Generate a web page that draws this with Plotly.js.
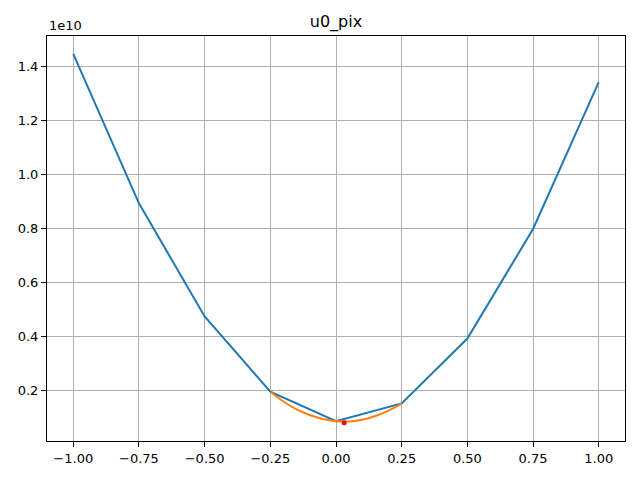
<!DOCTYPE html>
<html>
<head>
<meta charset="utf-8">
<script src="https://cdn.plot.ly/plotly-3.0.1.min.js"></script>
<style>
  html, body { margin: 0; padding: 0; background: #fff; }
  #chart { width: 640px; height: 480px; }
</style>
</head>
<body>
<div id="chart"></div>
<script>
"use strict";

// blue: u0_pix over the sampled offsets
const xSample = [-1.0, -0.75, -0.5, -0.25, 0.0, 0.25, 0.5, 0.75, 1.0];
const ySample = [1.447e10, 0.893e10, 0.474e10, 0.195e10, 0.086e10, 0.152e10, 0.392e10, 0.798e10, 1.342e10];

// orange: fitted curve around the minimum
const xFit = [-0.25, -0.2, -0.15, -0.1, -0.05, 0.0, 0.05, 0.1, 0.15, 0.2, 0.25];
const yFit = [0.195e10, 0.159e10, 0.130e10, 0.109e10, 0.094e10, 0.086e10, 0.085e10, 0.091e10, 0.105e10, 0.125e10, 0.152e10];

// red: minimum
const xMin = [0.031];
const yMin = [0.080e10];

const xTickVals = [-1.0, -0.75, -0.5, -0.25, 0.0, 0.25, 0.5, 0.75, 1.0];
const xTickText = ["\u22121.00", "\u22120.75", "\u22120.50", "\u22120.25", "0.00", "0.25", "0.50", "0.75", "1.00"];
const yTickVals = [0.2e10, 0.4e10, 0.6e10, 0.8e10, 1.0e10, 1.2e10, 1.4e10];
const yTickText = ["0.2", "0.4", "0.6", "0.8", "1.0", "1.2", "1.4"];

const FONT = "DejaVu Sans, sans-serif";

const data = [
  { x: xSample, y: ySample, mode: "lines", line: { color: "#1f77b4", width: 2 } },
  { x: xFit, y: yFit, mode: "lines", line: { color: "#ff7f0e", width: 2, shape: "spline" } },
  { x: xMin, y: yMin, mode: "markers", marker: { color: "red", size: 5 } },
];

const axisCommon = {
  showgrid: true,
  gridcolor: "#b0b0b0",
  gridwidth: 1,
  zeroline: false,
  showline: true,
  linecolor: "#000",
  linewidth: 1,
  mirror: true,
  ticks: "outside",
  ticklen: 5,
  tickwidth: 1,
  tickcolor: "#000",
  tickfont: { family: FONT, size: 13, color: "#000" },
  tickmode: "array",
};

const layout = {
  width: 640,
  height: 480,
  margin: { l: 47, r: 15, t: 36, b: 39 },
  paper_bgcolor: "#fff",
  plot_bgcolor: "#fff",
  showlegend: false,
  title: {
    text: "u0_pix",
    font: { family: FONT, size: 16, color: "#000" },
    x: 0.525, xanchor: "center",
    y: 0.955, yanchor: "middle",
  },
  xaxis: Object.assign({}, axisCommon, {
    range: [-1.1, 1.1],
    tickvals: xTickVals,
    ticktext: xTickText,
  }),
  yaxis: Object.assign({}, axisCommon, {
    range: [0.0125e10, 1.513e10],
    tickvals: yTickVals,
    ticktext: yTickText,
  }),
  annotations: [
    {
      text: "1e10", xref: "paper", yref: "paper", x: 0, y: 1,
      xanchor: "left", yanchor: "bottom", showarrow: false, yshift: 1,
      font: { family: FONT, size: 13, color: "#000" },
    },
  ],
};

Plotly.newPlot("chart", data, layout, { staticPlot: true, displayModeBar: false });
</script>
</body>
</html>
